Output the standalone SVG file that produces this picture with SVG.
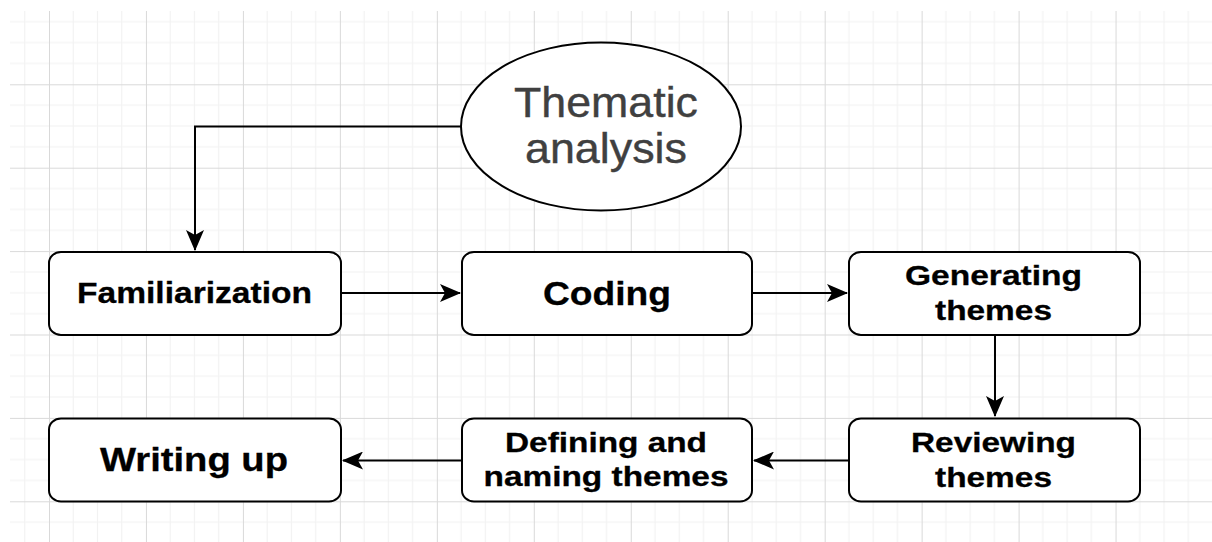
<svg xmlns="http://www.w3.org/2000/svg" width="1212" height="542" viewBox="0 0 1212 542">
  <style>
    .box { fill: #ffffff; stroke: #000000; stroke-width: 2; }
    .oval { fill: #ffffff; stroke: #000000; stroke-width: 2; }
    .label { font-family: "Liberation Sans", Arial, sans-serif; font-weight: bold; fill: #000000; text-anchor: middle; stroke: #000000; stroke-width: 0.3; }
    .title { font-family: "Liberation Sans", Arial, sans-serif; fill: #404040; text-anchor: middle; stroke: #404040; stroke-width: 0.4; }
    .edge { fill: none; stroke: #000000; stroke-width: 2; }
  </style>
  <defs>
    <!-- grid cell: 4 x 4 minor squares inside one major square -->
    <pattern id="grid" patternUnits="userSpaceOnUse" x="49" y="84.3" width="96.96" height="83.4">
      <g stroke="#f2f2f2" stroke-width="1.2">
        <line x1="24.24" y1="0" x2="24.24" y2="83.4"/>
        <line x1="48.48" y1="0" x2="48.48" y2="83.4"/>
        <line x1="72.72" y1="0" x2="72.72" y2="83.4"/>
        <line x1="0" y1="20.85" x2="96.96" y2="20.85"/>
        <line x1="0" y1="41.7" x2="96.96" y2="41.7"/>
        <line x1="0" y1="62.55" x2="96.96" y2="62.55"/>
      </g>
      <g stroke="#d9d9d9" stroke-width="1">
        <line x1="0.5" y1="0" x2="0.5" y2="83.4"/>
        <line x1="0" y1="0.5" x2="96.96" y2="0.5"/>
      </g>
    </pattern>
    <marker id="arrow" viewBox="0 0 21 18" refX="20" refY="9" markerWidth="21" markerHeight="18" markerUnits="userSpaceOnUse" orient="auto">
      <path d="M0,0 L21,9 L0,18 L5,9 Z" fill="#000000"/>
    </marker>
  </defs>

  <rect x="0" y="0" width="1212" height="542" fill="#ffffff"/>
  <rect x="10" y="11" width="1202" height="531" fill="url(#grid)"/>

  <g id="connectors">
    <path class="edge" d="M462,126.5 H195 V250" marker-end="url(#arrow)"/>
    <path class="edge" d="M341,293 H460" marker-end="url(#arrow)"/>
    <path class="edge" d="M752,293 H847" marker-end="url(#arrow)"/>
    <path class="edge" d="M995,335 V416" marker-end="url(#arrow)"/>
    <path class="edge" d="M849,460.5 H754" marker-end="url(#arrow)"/>
    <path class="edge" d="M462,460.5 H343" marker-end="url(#arrow)"/>
  </g>

  <g id="thematic-analysis">
    <ellipse class="oval" cx="601" cy="126.5" rx="140" ry="84"/>
    <text class="title" x="606" y="117" font-size="43" textLength="184" lengthAdjust="spacingAndGlyphs">Thematic</text>
    <text class="title" x="606" y="163" font-size="43" textLength="162" lengthAdjust="spacingAndGlyphs">analysis</text>
  </g>

  <g id="familiarization">
    <rect class="box" x="49" y="252" width="292" height="83" rx="12" ry="11"/>
    <text class="label" x="194.5" y="303" font-size="30" textLength="235" lengthAdjust="spacingAndGlyphs">Familiarization</text>
  </g>

  <g id="coding">
    <rect class="box" x="462" y="252" width="290" height="83" rx="12" ry="11"/>
    <text class="label" x="607" y="305" font-size="34" textLength="128" lengthAdjust="spacingAndGlyphs">Coding</text>
  </g>

  <g id="generating-themes">
    <rect class="box" x="849" y="252" width="291" height="83" rx="12" ry="11"/>
    <text class="label" x="993.5" y="285" font-size="28" textLength="177" lengthAdjust="spacingAndGlyphs">Generating</text>
    <text class="label" x="993.5" y="320" font-size="28" textLength="117" lengthAdjust="spacingAndGlyphs">themes</text>
  </g>

  <g id="reviewing-themes">
    <rect class="box" x="849" y="418.5" width="291" height="83" rx="12" ry="11"/>
    <text class="label" x="993.5" y="451.5" font-size="28" textLength="165" lengthAdjust="spacingAndGlyphs">Reviewing</text>
    <text class="label" x="993.5" y="486.5" font-size="28" textLength="117" lengthAdjust="spacingAndGlyphs">themes</text>
  </g>

  <g id="defining-naming-themes">
    <rect class="box" x="462" y="418.5" width="290" height="83" rx="12" ry="11"/>
    <text class="label" x="606" y="451.5" font-size="28" textLength="202" lengthAdjust="spacingAndGlyphs">Defining and</text>
    <text class="label" x="606" y="486" font-size="28" textLength="245" lengthAdjust="spacingAndGlyphs">naming themes</text>
  </g>

  <g id="writing-up">
    <rect class="box" x="49" y="418.5" width="292" height="83" rx="12" ry="11"/>
    <text class="label" x="194" y="470.5" font-size="34" textLength="188" lengthAdjust="spacingAndGlyphs">Writing up</text>
  </g>
</svg>
